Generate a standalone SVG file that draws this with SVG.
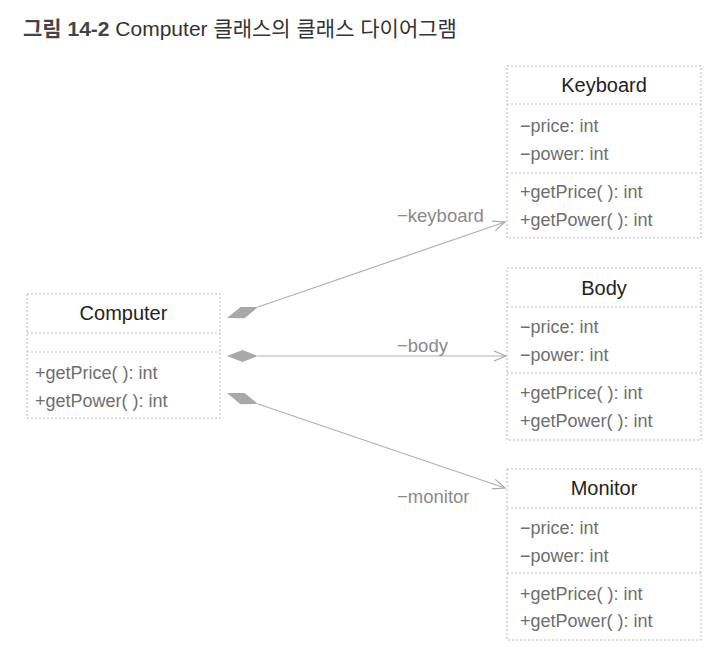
<svg xmlns="http://www.w3.org/2000/svg" width="720" height="664" viewBox="0 0 720 664">
<defs>
<style>
.box{fill:#fff;stroke:#b8b8b8;stroke-width:1;stroke-dasharray:2,2}
.sep{stroke:#c0c0c0;stroke-width:1;stroke-dasharray:2,2}
.title{font-family:"Liberation Sans",Arial,sans-serif;font-size:20px;fill:#222;text-anchor:middle}
.mem{font-family:"Liberation Sans",Arial,sans-serif;font-size:18px;fill:#6e6e6e}
.lbl{font-family:"Liberation Sans",Arial,sans-serif;font-size:18.5px;fill:#8a8a8a}
.line{stroke:#b0b0b0;stroke-width:1.2;fill:none}
.dia{fill:#a8a8a8;stroke:none}
.cap{font-family:"Liberation Sans","Noto Sans CJK KR",sans-serif;font-size:21px;fill:#333}
</style>
<marker id="open" viewBox="0 0 14 12" refX="13" refY="6" markerWidth="14" markerHeight="12" markerUnits="userSpaceOnUse" orient="auto">
<path d="M1,1 L13,6 L1,11" fill="none" stroke="#a8a8a8" stroke-width="1.2"/>
</marker>
</defs>
<rect width="720" height="664" fill="#fff"/>
<text class="cap" x="23" y="36"><tspan font-weight="bold" fill="#444">그림 14-2</tspan> Computer 클래스의 클래스 다이어그램</text>

<g id="connectors">
<polygon class="dia" points="227,318 240.5,306.9 258,307 244.5,318.2"/>
<line class="line" x1="258" y1="307" x2="505" y2="222" marker-end="url(#open)"/>
<polygon class="dia" points="227,356 242.5,350 258,356 242.5,362"/>
<line class="line" x1="258" y1="356" x2="506" y2="356" marker-end="url(#open)"/>
<polygon class="dia" points="227,393 244.5,392.9 258,404 240.5,404.2"/>
<line class="line" x1="258" y1="404" x2="505" y2="488" marker-end="url(#open)"/>
<text class="lbl" x="397" y="222">−keyboard</text>
<text class="lbl" x="397" y="352">−body</text>
<text class="lbl" x="397" y="503">−monitor</text>
</g>

<g id="computer">
<rect class="box" x="27" y="294" width="193" height="124"/>
<line class="sep" x1="27" y1="333" x2="220" y2="333"/>
<line class="sep" x1="27" y1="352" x2="220" y2="352"/>
<text class="title" x="123.5" y="320">Computer</text>
<text class="mem" x="35" y="379">+getPrice( ): int</text>
<text class="mem" x="35" y="407">+getPower( ): int</text>
</g>

<g id="keyboard">
<rect class="box" x="507" y="66" width="194" height="172"/>
<line class="sep" x1="507" y1="104" x2="701" y2="104"/>
<line class="sep" x1="507" y1="173" x2="701" y2="173"/>
<text class="title" x="604" y="92">Keyboard</text>
<text class="mem" x="520" y="132">−price: int</text>
<text class="mem" x="520" y="160">−power: int</text>
<text class="mem" x="520" y="198">+getPrice( ): int</text>
<text class="mem" x="520" y="226">+getPower( ): int</text>
</g>

<g id="body">
<rect class="box" x="507" y="268" width="194" height="172"/>
<line class="sep" x1="507" y1="307" x2="701" y2="307"/>
<line class="sep" x1="507" y1="373" x2="701" y2="373"/>
<text class="title" x="604" y="295">Body</text>
<text class="mem" x="520" y="333">−price: int</text>
<text class="mem" x="520" y="361">−power: int</text>
<text class="mem" x="520" y="399">+getPrice( ): int</text>
<text class="mem" x="520" y="427">+getPower( ): int</text>
</g>

<g id="monitor">
<rect class="box" x="507" y="469" width="194" height="171"/>
<line class="sep" x1="507" y1="508" x2="701" y2="508"/>
<line class="sep" x1="507" y1="573" x2="701" y2="573"/>
<text class="title" x="604" y="495">Monitor</text>
<text class="mem" x="520" y="534">−price: int</text>
<text class="mem" x="520" y="562">−power: int</text>
<text class="mem" x="520" y="600">+getPrice( ): int</text>
<text class="mem" x="520" y="627">+getPower( ): int</text>
</g>
</svg>
